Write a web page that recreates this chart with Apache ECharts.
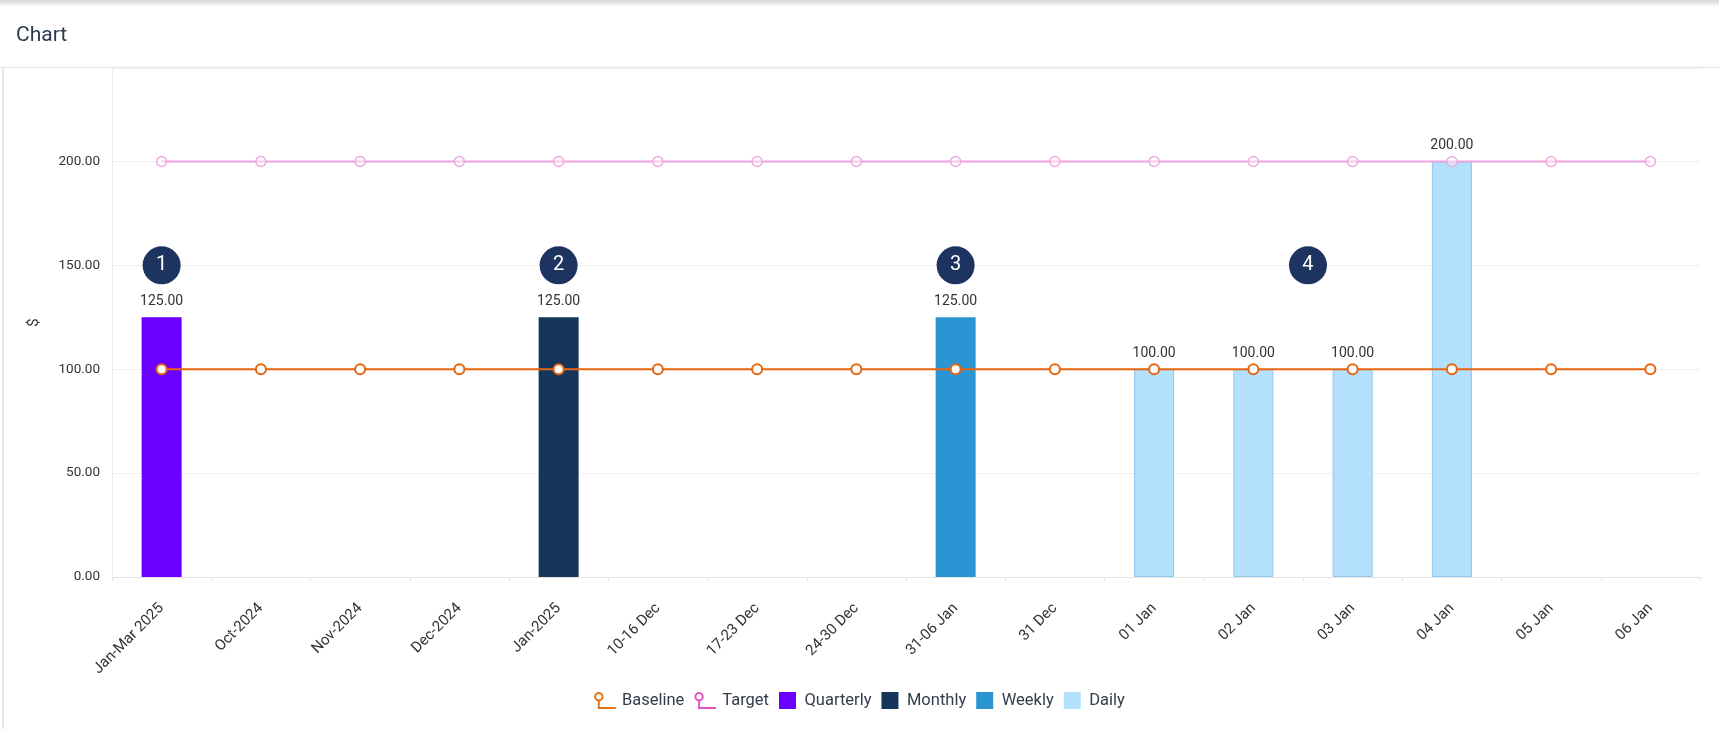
<!DOCTYPE html>
<html>
<head>
<meta charset="utf-8">
<script src="https://cdn.jsdelivr.net/npm/echarts@6/dist/echarts.min.js"></script>
<style>
html,body{margin:0;padding:0;background:#fff;}
#chart{width:1719px;height:729px;}
</style>
</head>
<body>
<div id="chart"></div>
<script>
const categories = ['Jan-Mar 2025','Oct-2024','Nov-2024','Dec-2024','Jan-2025','10-16 Dec','17-23 Dec','24-30 Dec','31-06 Jan','31 Dec','01 Jan','02 Jan','03 Jan','04 Jan','05 Jan','06 Jan'];
const baseline = [100,100,100,100,100,100,100,100,100,100,100,100,100,100,100,100];
const target = [200,200,200,200,200,200,200,200,200,200,200,200,200,200,200,200];
const quarterly = [125,null,null,null,null,null,null,null,null,null,null,null,null,null,null,null];
const monthly = [null,null,null,null,125,null,null,null,null,null,null,null,null,null,null,null];
const weekly = [null,null,null,null,null,null,null,null,125,null,null,null,null,null,null,null];
const daily = [null,null,null,null,null,null,null,null,null,null,100,100,100,200,null,null];
const markers = [[0,150,'1'],[4,150,'2'],[8,150,'3'],[11.55,150,'4']];
const yTicks = {min:0, max:245, interval:50};

const FONT = 'Roboto';
const pinIcon = 'path://M6,1 A5,5 0 1,1 6,11 A5,5 0 1,1 6,1 Z M6,3.2 A2.8,2.8 0 1,0 6,8.8 A2.8,2.8 0 1,0 6,3.2 Z M5,10.5 L7,10.5 L7,17 L24,17 L24,19 L5,19 Z';
const squareIcon = 'path://M0,0 L10,0 L10,10 L0,10 Z';

const chart = echarts.init(document.getElementById('chart'));
const barLabel = {show:true, position:'top', distance:9, color:'#333', fontFamily:FONT, fontSize:14, formatter:p => p.value == null ? '' : Number(p.value).toFixed(2)};
function barSeries(name, data, color, extra){
  return Object.assign({name, type:'bar', stack:'s', data, barWidth:40, itemStyle:{color}, label:barLabel, z:2}, extra||{});
}
chart.setOption({
  animation:false,
  title:{text:'Chart', left:11, top:20, textStyle:{fontFamily:FONT, fontSize:21, fontWeight:'normal', color:'#2e3a4b'}},
  graphic:[
    {type:'rect', shape:{x:0,y:0,width:1719,height:7}, style:{fill:new echarts.graphic.LinearGradient(0,0,0,1,[{offset:0,color:'#d6d6d6'},{offset:1,color:'#ffffff'}])}, silent:true, z:-1},
    {type:'line', shape:{x1:0,y1:67.5,x2:1719,y2:67.5}, style:{stroke:'#e8e8e8', lineWidth:1.5}, silent:true, z:-1},
    {type:'line', shape:{x1:3,y1:68,x2:3,y2:729}, style:{stroke:'#dcecf2', lineWidth:2}, silent:true, z:-1}
  ],
  legend:{
    left:'center', top:687, itemWidth:24, itemHeight:17, itemGap:10,
    textStyle:{fontFamily:FONT, fontSize:16.5, color:'#333c4a'},
    data:[
      {name:'Baseline', icon:pinIcon, itemStyle:{color:'#e8720f', borderWidth:0}},
      {name:'Target', icon:pinIcon, itemStyle:{color:'#e652c4', borderWidth:0}},
      {name:'Quarterly', icon:squareIcon},
      {name:'Monthly', icon:squareIcon},
      {name:'Weekly', icon:squareIcon},
      {name:'Daily', icon:squareIcon, itemStyle:{color:'#b3e0fc', borderWidth:0}}
    ]
  },
  grid:{left:112, right:19, top:68, bottom:152},
  xAxis:[{
    type:'category', data:categories,
    axisLine:{lineStyle:{color:'#e4e4e4'}},
    axisTick:{show:true, length:4, lineStyle:{color:'#e4e4e4'}},
    axisLabel:{interval:0, rotate:45, margin:29, color:'#333', fontFamily:FONT, fontSize:15}
  },{
    type:'value', min:-0.5, max:15.5, show:false, splitLine:{show:false}, axisLine:{show:false}
  }],
  yAxis:{
    type:'value', min:yTicks.min, max:yTicks.max, interval:yTicks.interval,
    name:'$', nameLocation:'middle', nameGap:70, nameTextStyle:{fontFamily:FONT, fontSize:15, color:'#333'},
    axisLine:{show:true, onZero:false, lineStyle:{color:'#ececec'}},
    axisTick:{show:false},
    splitLine:{lineStyle:{color:'#f0f0f0'}},
    axisLabel:{showMaxLabel:false, margin:12, color:'#333', fontFamily:FONT, fontSize:13.5, formatter:v => v.toFixed(2)}
  },
  series:[
    barSeries('Quarterly', quarterly, '#6a00ff'),
    barSeries('Monthly', monthly, '#15365a'),
    barSeries('Weekly', weekly, '#2b94d2'),
    barSeries('Daily', daily, '#b3e0fc', {itemStyle:{color:'#b3e0fc', borderColor:'#92c6ea', borderWidth:1}}),
    {name:'Baseline', type:'line', data:baseline, symbol:'circle', symbolSize:10, z:4,
      lineStyle:{color:'#e8650f', width:2}, itemStyle:{color:'#ffffff', borderColor:'#e8650f', borderWidth:2}},
    {name:'Target', type:'line', data:target, symbol:'circle', symbolSize:10, z:3,
      lineStyle:{color:'#eea3df', width:2}, itemStyle:{color:'rgba(255,255,255,0.4)', borderColor:'#f0a8e2', borderWidth:1.5}},
    {name:'markers', type:'scatter', xAxisIndex:1, data:markers, symbol:'circle', symbolSize:38, z:5,
      itemStyle:{color:'#1d3461', opacity:1},
      label:{show:true, position:'inside', formatter:p => p.value[2], color:'#fff', fontFamily:FONT, fontSize:20}}
  ]
});
</script>
</body>
</html>
